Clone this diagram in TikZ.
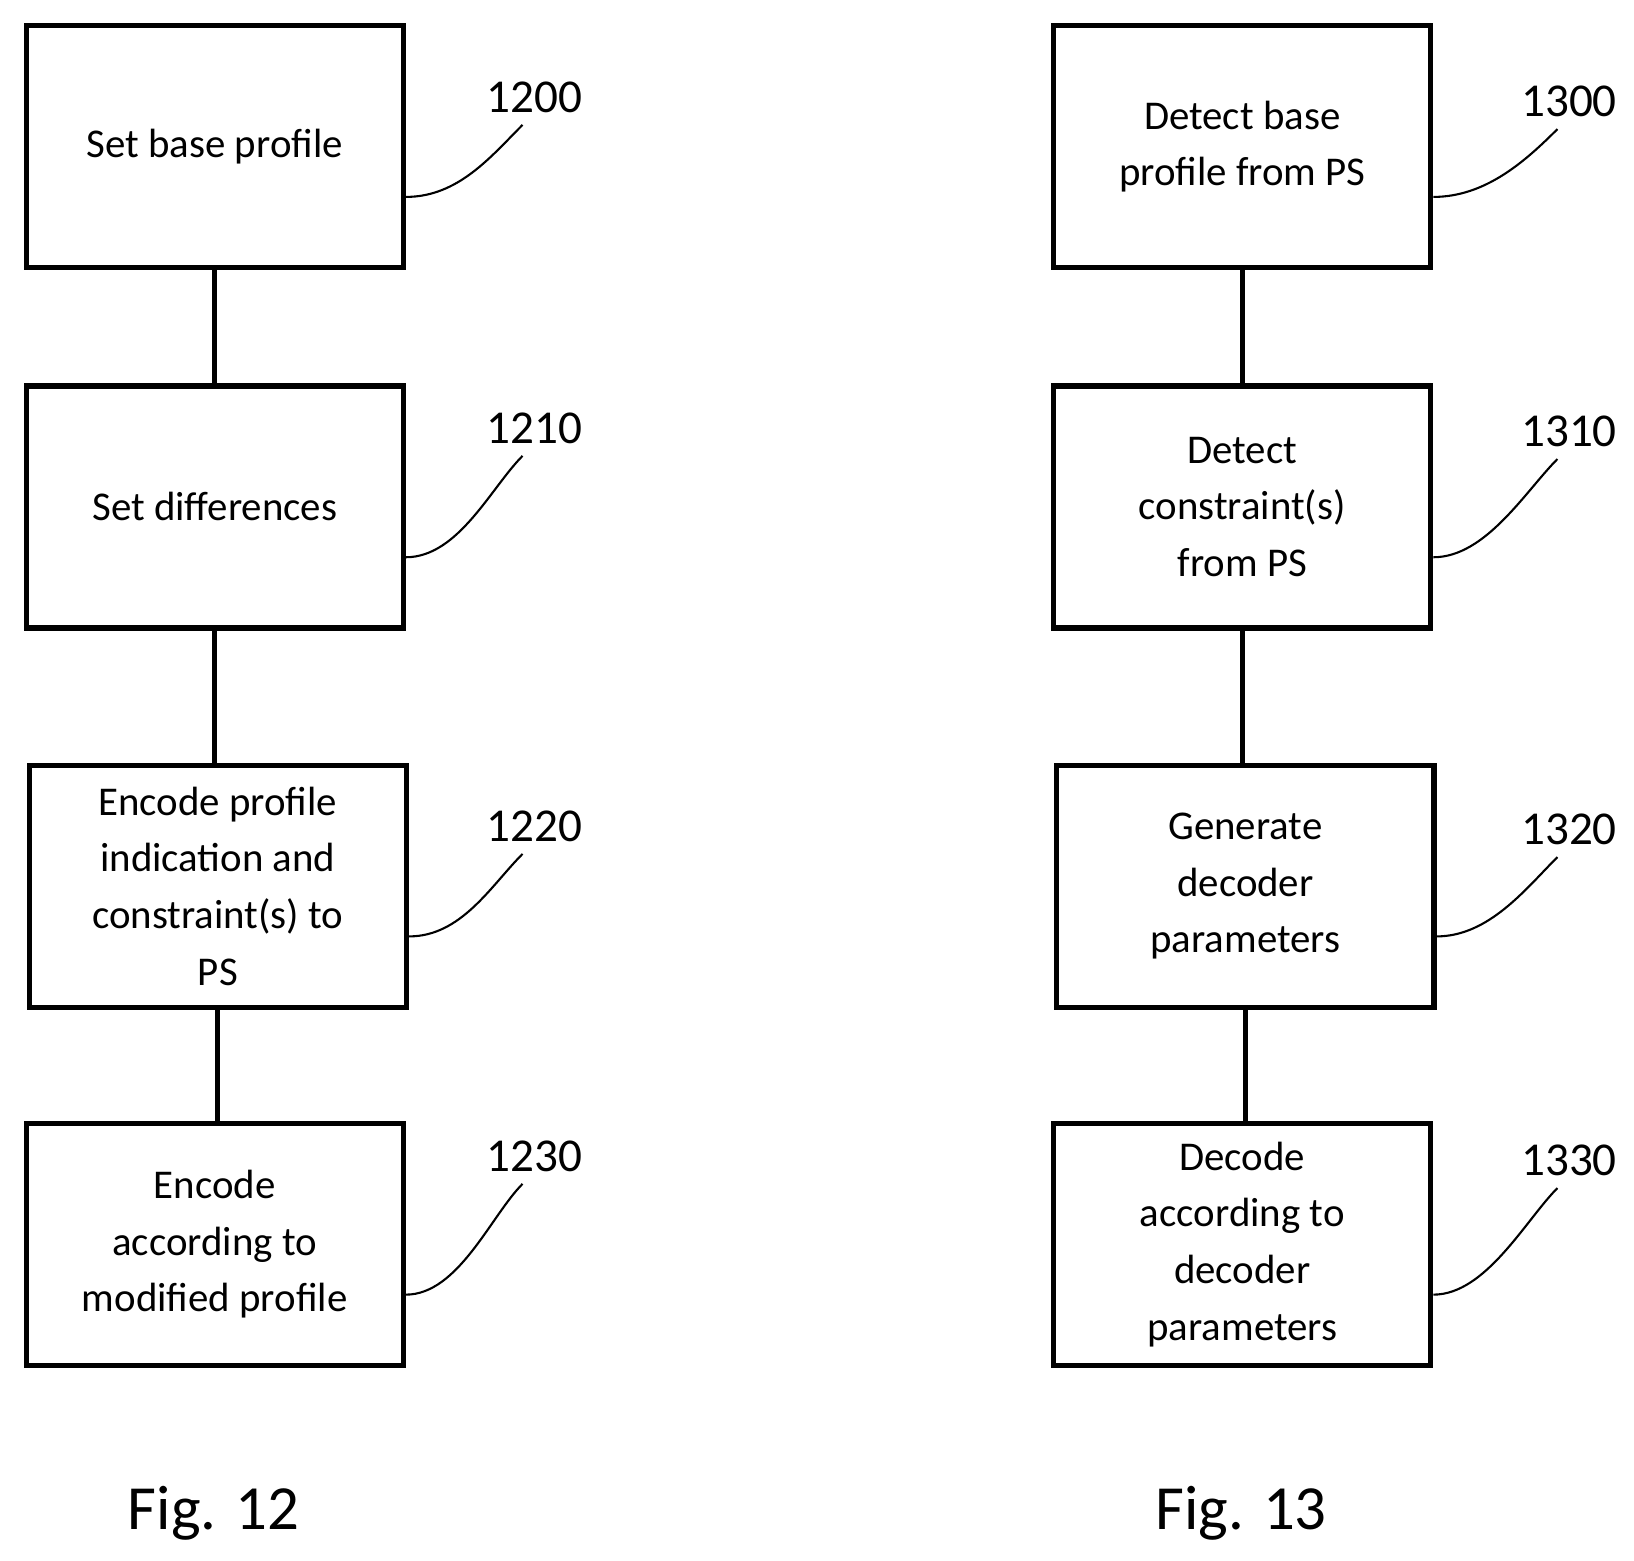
\documentclass[tikz,border=0pt]{standalone}
\usepackage{fontspec}
\setmainfont{Carlito}
\usetikzlibrary{calc}
\begin{document}
\begin{tikzpicture}[x=1pt,y=-1pt,
 box/.style={draw,line width=5pt,minimum width=360pt,minimum height=231pt,align=center,font=\fontsize{39}{54}\selectfont,inner sep=0pt},
 num/.style={font=\fontsize{45}{48}\selectfont,anchor=center},
 lead/.style={line width=2pt},
 conn/.style={line width=5pt},
 fig/.style={font=\fontsize{60}{64}\selectfont}]
\useasboundingbox (0,0) rectangle (1560,1490);
\node[box] (a0) at (205,140) {Set base profile};
\node[box] (a1) at (205,484) {Set differences};
\node[box] (a2) at (208,846) {Encode profile\\indication and\\constraint(s) to\\PS};
\node[box] (a3) at (205,1188) {Encode\\according to\\modified profile};
\node[box] (b0) at (1186,140) {Detect base\\profile from PS};
\node[box] (b1) at (1186,484) {Detect\\constraint(s)\\from PS};
\node[box] (b2) at (1189,846) {Generate\\decoder\\parameters};
\node[box] (b3) at (1186,1188) {Decode\\according to\\decoder\\parameters};
\foreach \u/\v in {a0/a1,a1/a2,a2/a3,b0/b1,b1/b2,b2/b3}
  \draw[conn] (\u.south) -- (\u.south |- \v.north);
\foreach \n/\t/\x/\y in {a0/1200/510/93,a1/1210/510/409,a2/1220/510/789,a3/1230/510/1104,b0/1300/1498/97,b1/1310/1498/412,b2/1320/1498/792,b3/1330/1498/1108}{
  \node[num] (l\n) at (\x,\y) {\t};
  \coordinate (e\n) at ($(\n.east)+(0,48)$);
  \draw[lead] (\n.east |- e\n) .. controls ++(50,0) and ++(-30,30) .. ($(l\n.south west)+(38,8)$);
}
\node[fig] (f12) at (204,1445) {Fig. 12};
\node[fig] (f13) at (1185,1445) {Fig. 13};
\end{tikzpicture}
\end{document}
